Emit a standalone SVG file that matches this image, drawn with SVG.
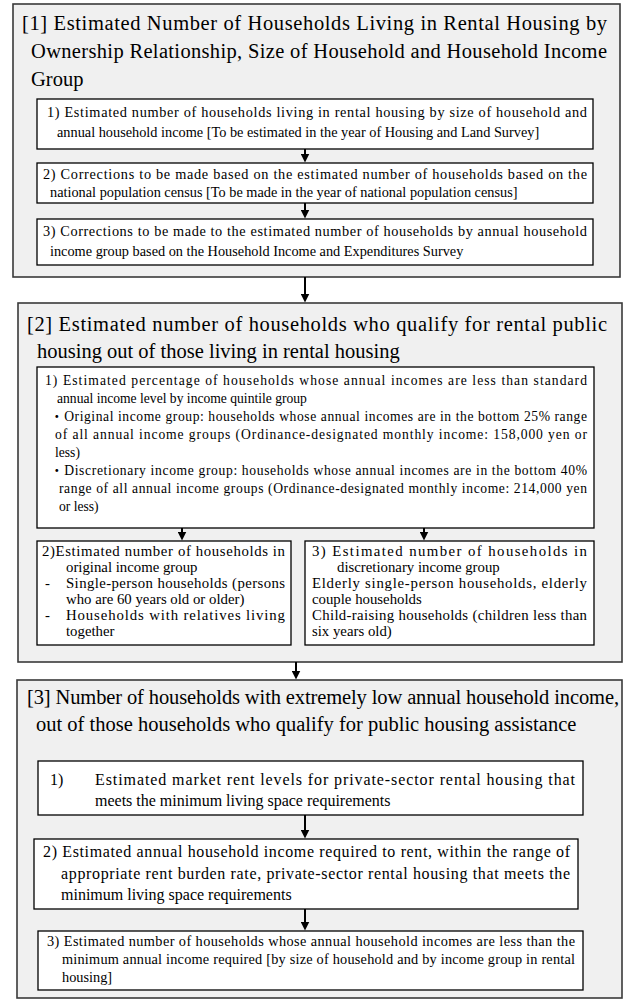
<svg xmlns="http://www.w3.org/2000/svg" width="625" height="999" viewBox="0 0 625 999">
<style>
.outer{fill:#f0f0f0;stroke:#3a3a3a;stroke-width:1.6}
.inner{fill:#ffffff;stroke:#000000;stroke-width:1.3}
.title{font-family:"Liberation Serif","Times New Roman",serif;font-size:20.5px;fill:#000}
.t{font-family:"Liberation Serif","Times New Roman",serif;font-size:14.3px;fill:#000}
.t2{font-family:"Liberation Serif","Times New Roman","Noto Sans CJK JP",serif;font-size:13.6px;fill:#000}
.s{font-family:"Liberation Serif","Times New Roman",serif;font-size:14.8px;fill:#000}
.m{font-family:"Liberation Serif","Times New Roman",serif;font-size:16px;fill:#000}
.b{font-family:"Liberation Serif","Times New Roman",serif;font-size:14.3px;fill:#000}
.arrow{stroke:#000;stroke-width:2;fill:none;marker-end:url(#ah)}
</style>
<defs>
<marker id="ah" viewBox="0 0 10 10" refX="5" refY="5" markerWidth="9" markerHeight="9" markerUnits="userSpaceOnUse" orient="auto">
<path d="M0,0 L10,5 L0,10 z" fill="#000"/>
</marker>
</defs>

<g id="section1">
<rect class="outer" x="13" y="4" width="607" height="273"/>
<text class="title" x="22" y="30" textLength="585" lengthAdjust="spacing">[1] Estimated Number of Households Living in Rental Housing by</text>
<text class="title" x="31" y="58" textLength="576" lengthAdjust="spacing">Ownership Relationship, Size of Household and Household Income</text>
<text class="title" x="31" y="86">Group</text>
</g>

<g id="s1-step1">
<rect class="inner" x="37" y="99" width="556" height="50"/>
<text class="t" x="47" y="117" textLength="540" lengthAdjust="spacing">1)  Estimated number of households living in rental housing by size of household and</text>
<text class="t" x="57" y="137">annual household income [To be estimated in the year of Housing and Land Survey]</text>
</g>

<g id="s1-step2">
<rect class="inner" x="37" y="163" width="556" height="40"/>
<text class="t" x="43" y="179" textLength="544" lengthAdjust="spacing">2) Corrections to be made based on the estimated number of households based on the</text>
<text class="t" x="50" y="197">national population census [To be made in the year of national population census]</text>
</g>

<g id="s1-step3">
<rect class="inner" x="37" y="219" width="556" height="46"/>
<text class="t" x="43" y="236" textLength="544" lengthAdjust="spacing">3) Corrections to be made to the estimated number of households by annual household</text>
<text class="t" x="50" y="256">income group based on the Household Income and Expenditures Survey</text>
</g>

<g id="section2">
<rect class="outer" x="18" y="303" width="604" height="359"/>
<text class="title" x="27" y="331" textLength="580" lengthAdjust="spacing">[2] Estimated number of households who qualify for rental public</text>
<text class="title" x="37" y="358">housing out of those living in rental housing</text>
</g>

<g id="s2-step1">
<rect class="inner" x="37" y="367" width="557" height="161"/>
<text class="t2" x="45" y="385" textLength="542" lengthAdjust="spacing">1) Estimated percentage of households whose annual incomes are less than standard</text>
<text class="t2" x="57" y="403">annual income level by income quintile group</text>
<text class="t2" x="50" y="421" textLength="537" lengthAdjust="spacing">・Original income group: households whose annual incomes are in the bottom 25% range</text>
<text class="t2" x="55" y="439" textLength="532" lengthAdjust="spacing">of all annual income groups (Ordinance-designated monthly income: 158,000 yen or</text>
<text class="t2" x="55" y="457">less)</text>
<text class="t2" x="50" y="475" textLength="537" lengthAdjust="spacing">・Discretionary income group: households whose annual incomes are in the bottom 40%</text>
<text class="t2" x="59" y="493" textLength="528" lengthAdjust="spacing">range of all annual income groups (Ordinance-designated monthly income: 214,000 yen</text>
<text class="t2" x="59" y="511">or less)</text>
</g>

<g id="s2-step2">
<rect class="inner" x="37" y="541" width="254" height="104"/>
<text class="s" x="42" y="556" textLength="243" lengthAdjust="spacing">2)Estimated number of households in</text>
<text class="s" x="66" y="572">original income group</text>
<text class="s" x="45" y="588">-</text>
<text class="s" x="66" y="588" textLength="219" lengthAdjust="spacing">Single-person households (persons</text>
<text class="s" x="66" y="604">who are 60 years old or older)</text>
<text class="s" x="45" y="620">-</text>
<text class="s" x="66" y="620" textLength="219" lengthAdjust="spacing">Households with relatives living</text>
<text class="s" x="66" y="636">together</text>
</g>

<g id="s2-step3">
<rect class="inner" x="305" y="541" width="289" height="104"/>
<text class="s" x="312" y="556" textLength="275" lengthAdjust="spacing">3) Estimated number of households in</text>
<text class="s" x="337" y="572">discretionary income group</text>
<text class="s" x="312" y="588" textLength="275" lengthAdjust="spacing">Elderly single-person households, elderly</text>
<text class="s" x="312" y="604">couple households</text>
<text class="s" x="312" y="620" textLength="275" lengthAdjust="spacing">Child-raising households (children less than</text>
<text class="s" x="312" y="636">six years old)</text>
</g>

<g id="section3">
<rect class="outer" x="17" y="680" width="605" height="318"/>
<text class="title" x="27" y="704" textLength="592" lengthAdjust="spacing">[3] Number of households with extremely low annual household income,</text>
<text class="title" x="36" y="731">out of those households who qualify for public housing assistance</text>
</g>

<g id="s3-step1">
<rect class="inner" x="38" y="761" width="545" height="54"/>
<text class="m" x="50" y="785">1)</text>
<text class="m" x="95" y="785" textLength="480" lengthAdjust="spacing">Estimated market rent levels for private-sector rental housing that</text>
<text class="m" x="95" y="806">meets the minimum living space requirements</text>
</g>

<g id="s3-step2">
<rect class="inner" x="34" y="839" width="544" height="70"/>
<text class="m" x="43" y="857" textLength="527" lengthAdjust="spacing">2) Estimated annual household income required to rent, within the range of</text>
<text class="m" x="61" y="879" textLength="509" lengthAdjust="spacing">appropriate rent burden rate, private-sector rental housing that meets the</text>
<text class="m" x="61" y="900">minimum living space requirements</text>
</g>

<g id="s3-step3">
<rect class="inner" x="38" y="931" width="545" height="59"/>
<text class="b" x="47" y="946" textLength="528" lengthAdjust="spacing">3) Estimated number of households whose annual household incomes are less than the</text>
<text class="b" x="62" y="964" textLength="513" lengthAdjust="spacing">minimum annual income required [by size of household and by income group in rental</text>
<text class="b" x="62" y="982">housing]</text>
</g>

<g id="connectors">
<line class="arrow" x1="305" y1="149" x2="305" y2="158"/>
<line class="arrow" x1="305" y1="203" x2="305" y2="214"/>
<line class="arrow" x1="305" y1="277" x2="305" y2="298"/>
<line class="arrow" x1="182" y1="528" x2="182" y2="536"/>
<line class="arrow" x1="424" y1="528" x2="424" y2="536"/>
<line class="arrow" x1="296" y1="662" x2="296" y2="675"/>
<line class="arrow" x1="305" y1="815" x2="305" y2="834"/>
<line class="arrow" x1="305" y1="909" x2="305" y2="926"/>
</g>
</svg>
